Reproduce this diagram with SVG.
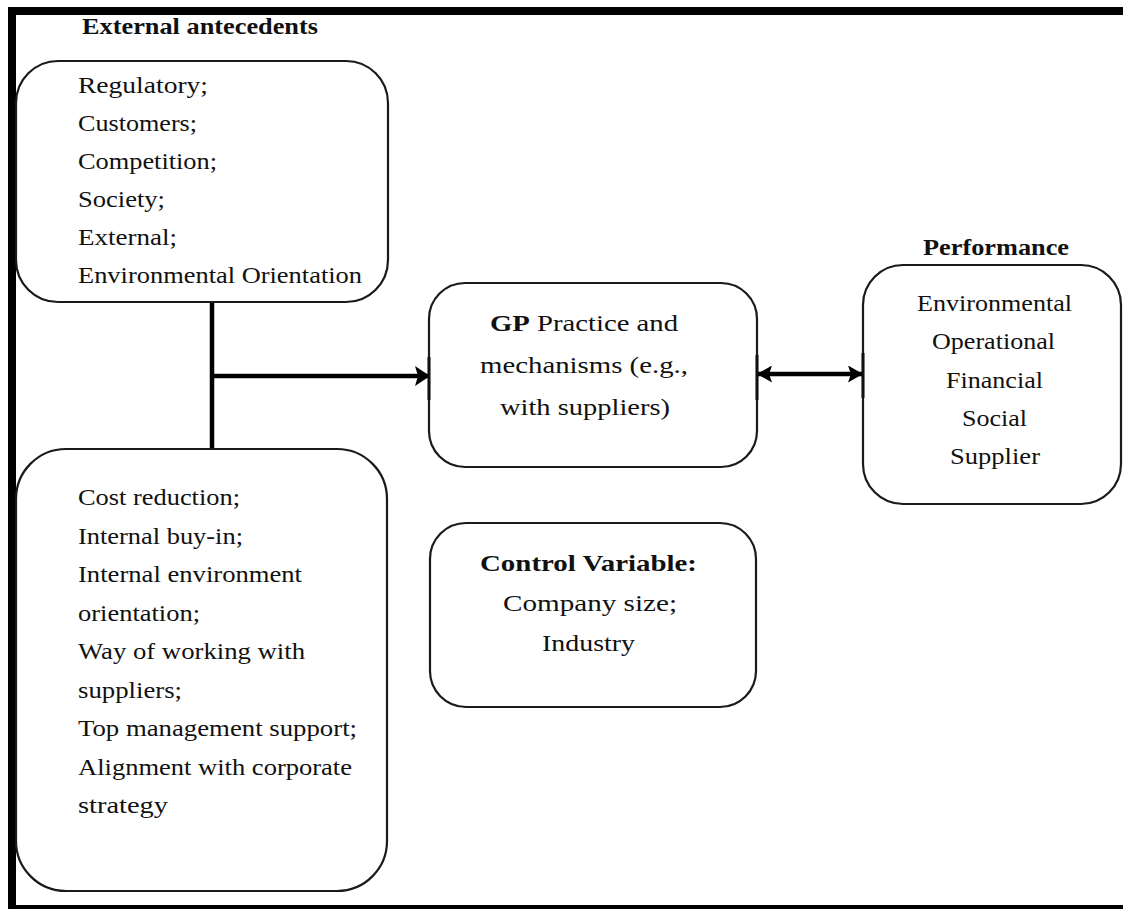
<svg xmlns="http://www.w3.org/2000/svg" width="1123" height="909" viewBox="0 0 1123 909">
  <defs>
    <style>
      .frame { fill: #000; }
      .box { fill: #fff; stroke: #1a1a1a; stroke-width: 2.2; }
      .txt { font-family: "Liberation Serif", "Times New Roman", serif; font-size: 23px; fill: #111; }
      .b { font-weight: bold; }
      .wire { stroke: #000; stroke-width: 4.5; fill: none; }
      .glue { stroke: #111; stroke-width: 3; }
    </style>
    <marker id="head" viewBox="0 0 15 20" refX="15" refY="10" markerWidth="15" markerHeight="20" markerUnits="userSpaceOnUse" orient="auto-start-reverse">
      <path d="M0,0 L15,10 L0,20 L3,10 Z" fill="#000"/>
    </marker>
    <marker id="head2" viewBox="0 0 15 17" refX="15" refY="8.5" markerWidth="15" markerHeight="17" markerUnits="userSpaceOnUse" orient="auto-start-reverse">
      <path d="M0,0 L15,8.5 L0,17 L3,8.5 Z" fill="#000"/>
    </marker>
  </defs>

  <rect width="1123" height="909" fill="#fff"/>

  <!-- page frame -->
  <g id="frame">
    <rect class="frame" x="8" y="7" width="1115" height="8"/>
    <rect class="frame" x="8" y="7" width="8" height="902"/>
    <rect class="frame" x="8" y="905" width="1115" height="4"/>
  </g>

  <!-- connectors -->
  <g id="connectors">
    <line class="wire" x1="212" y1="302" x2="212" y2="449"/>
    <line class="wire" x1="212" y1="376" x2="430" y2="376" marker-end="url(#head)"/>
    <line class="wire" x1="757" y1="374" x2="863" y2="374" marker-start="url(#head2)" marker-end="url(#head2)"/>
  </g>

  <!-- external antecedents -->
  <g id="external">
    <text class="txt b" x="82" y="34" textLength="236" lengthAdjust="spacingAndGlyphs">External antecedents</text>
    <rect class="box" x="16" y="61" width="372" height="241" rx="42"/>
    <text class="txt" x="78" y="93" textLength="130" lengthAdjust="spacingAndGlyphs">Regulatory;</text>
    <text class="txt" x="78" y="131" textLength="119" lengthAdjust="spacingAndGlyphs">Customers;</text>
    <text class="txt" x="78" y="169" textLength="139" lengthAdjust="spacingAndGlyphs">Competition;</text>
    <text class="txt" x="78" y="207" textLength="87" lengthAdjust="spacingAndGlyphs">Society;</text>
    <text class="txt" x="78" y="245" textLength="99" lengthAdjust="spacingAndGlyphs">External;</text>
    <text class="txt" x="78" y="283" textLength="284" lengthAdjust="spacingAndGlyphs">Environmental Orientation</text>
  </g>

  <!-- internal antecedents -->
  <g id="internal">
    <rect class="box" x="16" y="449" width="371" height="442" rx="50"/>
    <text class="txt" x="78" y="505" textLength="162" lengthAdjust="spacingAndGlyphs">Cost reduction;</text>
    <text class="txt" x="78" y="543.5" textLength="165" lengthAdjust="spacingAndGlyphs">Internal buy-in;</text>
    <text class="txt" x="78" y="582" textLength="224" lengthAdjust="spacingAndGlyphs">Internal environment</text>
    <text class="txt" x="78" y="620.5" textLength="122" lengthAdjust="spacingAndGlyphs">orientation;</text>
    <text class="txt" x="78" y="659" textLength="227" lengthAdjust="spacingAndGlyphs">Way of working with</text>
    <text class="txt" x="78" y="697.5" textLength="104" lengthAdjust="spacingAndGlyphs">suppliers;</text>
    <text class="txt" x="78" y="736" textLength="279" lengthAdjust="spacingAndGlyphs">Top management support;</text>
    <text class="txt" x="78" y="774.5" textLength="274" lengthAdjust="spacingAndGlyphs">Alignment with corporate</text>
    <text class="txt" x="78" y="813" textLength="90" lengthAdjust="spacingAndGlyphs">strategy</text>
  </g>

  <!-- green purchasing practices -->
  <g id="gp">
    <rect class="box" x="429" y="283" width="328" height="184" rx="36"/>
    <text class="txt" x="490" y="331" textLength="188" lengthAdjust="spacingAndGlyphs"><tspan class="b">GP</tspan> Practice and</text>
    <text class="txt" x="480" y="373" textLength="208" lengthAdjust="spacingAndGlyphs">mechanisms (e.g.,</text>
    <text class="txt" x="500" y="415" textLength="170" lengthAdjust="spacingAndGlyphs">with suppliers)</text>
  </g>

  <!-- control variable -->
  <g id="control">
    <rect class="box" x="430" y="523" width="326" height="184" rx="36"/>
    <text class="txt b" x="480" y="571" textLength="217" lengthAdjust="spacingAndGlyphs">Control Variable:</text>
    <text class="txt" x="503" y="611" textLength="174" lengthAdjust="spacingAndGlyphs">Company size;</text>
    <text class="txt" x="542" y="651" textLength="93" lengthAdjust="spacingAndGlyphs">Industry</text>
  </g>

  <!-- performance -->
  <g id="performance">
    <text class="txt b" x="923" y="255" textLength="146" lengthAdjust="spacingAndGlyphs">Performance</text>
    <rect class="box" x="863" y="265" width="258" height="239" rx="40"/>
    <text class="txt" x="917" y="311" textLength="155" lengthAdjust="spacingAndGlyphs">Environmental</text>
    <text class="txt" x="932" y="349" textLength="123" lengthAdjust="spacingAndGlyphs">Operational</text>
    <text class="txt" x="946" y="388" textLength="97" lengthAdjust="spacingAndGlyphs">Financial</text>
    <text class="txt" x="962" y="426" textLength="65" lengthAdjust="spacingAndGlyphs">Social</text>
    <text class="txt" x="950" y="464" textLength="90" lengthAdjust="spacingAndGlyphs">Supplier</text>
  </g>

  <!-- thickened glue points where arrows meet box edges -->
  <g id="glue">
    <line class="glue" x1="429" y1="357" x2="429" y2="400"/>
    <line class="glue" x1="757" y1="355" x2="757" y2="400"/>
    <line class="glue" x1="863" y1="353" x2="863" y2="398"/>
  </g>
</svg>
